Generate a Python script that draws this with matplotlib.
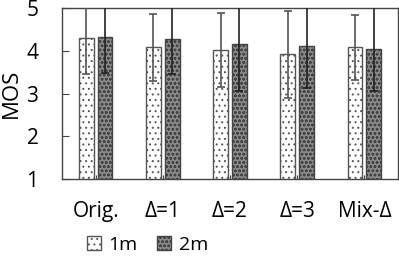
import matplotlib.pyplot as plt
import numpy as np

plt.rcParams["font.family"] = ["Open Sans", "DejaVu Sans"]
plt.rcParams["hatch.linewidth"] = 0.7

# Data
groups = ["Orig.", "\u0394=1", "\u0394=2", "\u0394=3", "Mix-\u0394"]
mos_1m = [4.30, 4.08, 4.02, 3.92, 4.08]
mos_2m = [4.33, 4.27, 4.15, 4.11, 4.05]
err_1m = [0.84, 0.79, 0.87, 1.02, 0.76]
err_2m = [0.84, 0.81, 1.08, 0.98, 0.98]

fig = plt.figure(figsize=(3.99, 2.59), dpi=100)
ax = fig.add_axes([62 / 399, 1 - 179 / 259, 336 / 399, 171 / 259])

x = np.arange(len(groups))
w = 0.22
off = 0.14

b1 = ax.bar(x - off, mos_1m, w, bottom=0, color="white", edgecolor="#555555",
            hatch="...", linewidth=1.0, label="1m", zorder=2)
b2 = ax.bar(x + off, mos_2m, w, bottom=0, color="#8a8a8a", edgecolor="#444444",
            hatch="oooo", linewidth=1.0, label="2m", zorder=2)
ax.errorbar(x - off, mos_1m, yerr=err_1m, fmt="none", ecolor="#555555",
            elinewidth=1.2, capsize=3, capthick=1.2, zorder=3)
ax.errorbar(x + off, mos_2m, yerr=err_2m, fmt="none", ecolor="#222222",
            elinewidth=1.2, capsize=3, capthick=1.2, zorder=3)

ax.set_xlim(-0.5, len(groups) - 0.5)
ax.set_ylim(1, 5)
ax.set_yticks([1, 2, 3, 4, 5])
ax.set_xticks(x)
ax.set_xticklabels(groups)
ax.set_ylabel("MOS", fontsize=16, labelpad=3)
ax.tick_params(axis="y", direction="in", length=5, labelsize=15, pad=17,
               color="#444444")
ax.tick_params(axis="x", direction="in", length=3, labelsize=15, pad=16,
               color="#444444")
for s in ax.spines.values():
    s.set_color("#444444")
    s.set_linewidth(1.0)

fig.legend(handles=[b1, b2], loc="center", bbox_to_anchor=(0.37, 0.055),
           ncol=2, frameon=False, fontsize=14, handlelength=0.7,
           handleheight=0.7, handletextpad=0.4, columnspacing=1.0,
           borderpad=0)

plt.savefig("out.png", dpi=100)
